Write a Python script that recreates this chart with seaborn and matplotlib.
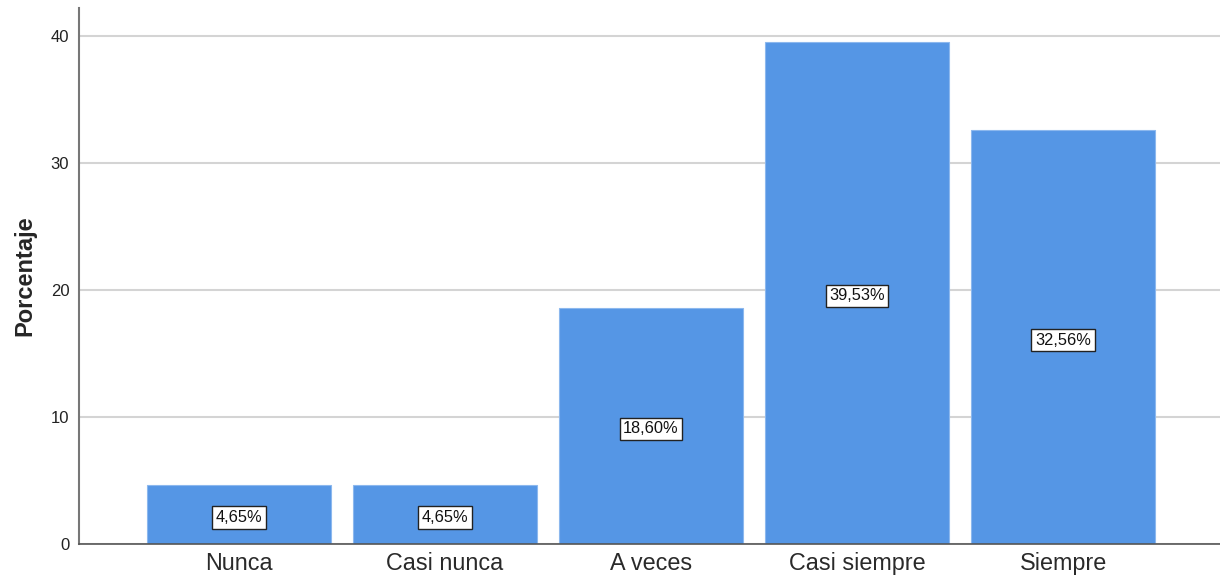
import matplotlib
matplotlib.use("Agg")
import matplotlib.pyplot as plt
import matplotlib.transforms as mtransforms
import seaborn as sns
import pandas as pd

categories = ["Nunca", "Casi nunca", "A veces", "Casi siempre", "Siempre"]
percentages = [4.65, 4.65, 18.60, 39.53, 32.56]
labels = ["4,65%", "4,65%", "18,60%", "39,53%", "32,56%"]
yticks = [0, 10, 20, 30, 40]

sns.set_style("white")
plt.rcParams['font.family'] = ['Liberation Sans', 'DejaVu Sans']

df = pd.DataFrame({"cat": categories, "pct": percentages})

fig = plt.figure(figsize=(12.2, 5.8), dpi=100)
ax = fig.add_axes([79/1220, 36/580, 1 - 79/1220, (572-36)/580])

ax.set_axisbelow(True)
ax.yaxis.grid(True, color="#d4d4d4", linewidth=1.5)
sns.barplot(data=df, x="cat", y="pct", color="#5596E5", saturation=1,
            width=0.893, edgecolor="#8cb8ee", linewidth=0.8, ax=ax)

offset = mtransforms.offset_copy(ax.transData, fig=fig, x=0, y=-3, units="dots")
for i, (v, lab) in enumerate(zip(percentages, labels)):
    ax.text(i, v / 2, lab, ha="center", va="center", fontsize=11.8,
            color="#111111", transform=offset,
            bbox=dict(boxstyle="square,pad=0.22", facecolor="white",
                      edgecolor="#222222", linewidth=1))

ax.set_xlim(-0.777, 4.762)
ax.set_ylim(0, 42.2)
ax.set_yticks(yticks)
ax.set_yticklabels([str(t) for t in yticks], fontsize=12, color="#222222")
ax.tick_params(axis="x", labelsize=16.8, colors="#2a2a2a", length=0, pad=6)
ax.tick_params(axis="y", length=0, pad=7)
ax.set_xlabel("")
ax.set_ylabel("Porcentaje", fontsize=17, fontweight="bold", labelpad=10)

for s in ["top", "right"]:
    ax.spines[s].set_visible(False)
ax.spines["left"].set_color("#777777")
ax.spines["bottom"].set_color("#555555")
ax.spines["left"].set_linewidth(1.5)
ax.spines["bottom"].set_linewidth(1.2)

fig.savefig("out.png", dpi=100, facecolor="white")
